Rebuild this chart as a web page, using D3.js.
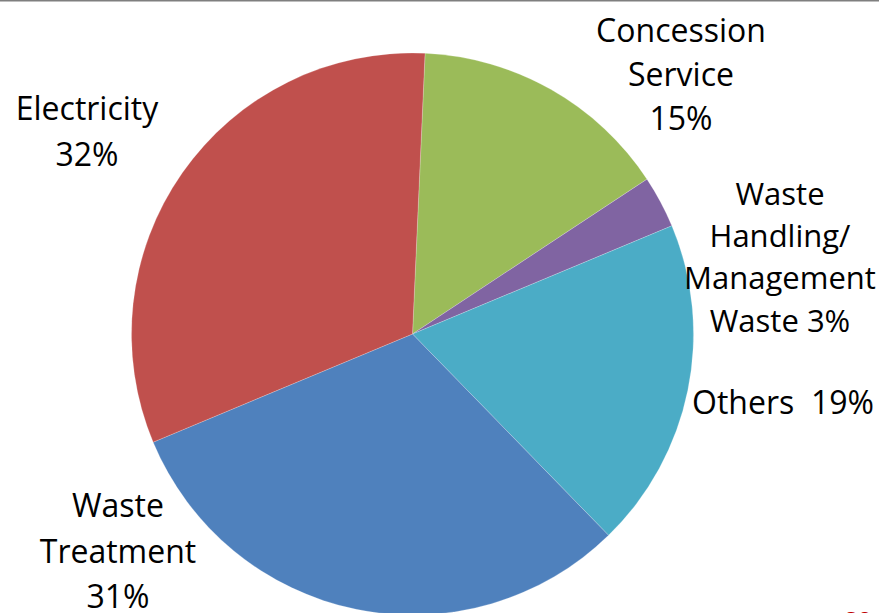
<!DOCTYPE html>
<html>
<head>
<meta charset="utf-8">
<script src="https://cdn.jsdelivr.net/npm/d3@7"></script>
<style>
  html, body { margin: 0; padding: 0; background: #fff; }
  svg { display: block; }
  text { font-family: "Open Sans", Lato, sans-serif; fill: #000; }
</style>
</head>
<body>
<div id="chart"></div>
<script>
// slices, clockwise from the top (Concession first)
const categories = ["Concession Service", "Waste Handling/ Management Waste", "Others", "Waste Treatment", "Electricity"];
const shares = [15, 3, 19, 31, 32];
const colors = ["#9BBB59", "#8064A2", "#4BACC6", "#4F81BD", "#C0504D"];

// label text, one entry per line
const labelLines = [
    ["Concession", "Service", "15%"],
    ["Waste", "Handling/", "Management", "Waste 3%"],
    ["Others\u00a0\u00a019%"],
    ["Waste", "Treatment", "31%"],
    ["Electricity", "32%"]
];

function main() {
    const width = 879;
    const height = 613;

    // pie geometry
    const cx = 412.5;
    const cy = 334;
    const radius = 281;
    const startOffset = 2.56 * Math.PI / 180; // first slice edge sits a bit right of 12 o'clock

    // where each label block is centred (x) and where its first baseline is (y)
    const labelLayout = [
        { x: 681, y: 41.5, lh: 44.3, fs: 32 },
        { x: 780, y: 205, lh: 42.2, fs: 31 },
        { x: 783, y: 414, lh: 44, fs: 32 },
        { x: 118, y: 517, lh: 45.5, fs: 32 },
        { x: 87, y: 119.5, lh: 46.7, fs: 32 }
    ];

    const svg = d3.select("#chart")
        .append("svg")
            .attr("width", width)
            .attr("height", height);

    // thin grey rule along the top of the slide
    svg.append("line")
        .attr("x1", 0).attr("x2", width)
        .attr("y1", 0.75).attr("y2", 0.75)
        .attr("stroke", "#7f7f7f")
        .attr("stroke-width", 1.5);

    const pie = d3.pie()
        .sort(null)
        .value(d => d)
        .startAngle(startOffset)
        .endAngle(startOffset + 2 * Math.PI);

    const arc = d3.arc()
        .innerRadius(0)
        .outerRadius(radius);

    const g = svg.append("g")
        .attr("transform", `translate(${cx}, ${cy})`);

    g.selectAll("path")
        .data(pie(shares))
        .enter()
        .append("path")
            .attr("d", arc)
            .attr("fill", (d, i) => colors[i])
            .attr("stroke", "#ffffff")
            .attr("stroke-opacity", 0.35)
            .attr("stroke-width", 0.6);

    // labels
    const labels = svg.selectAll("text.label")
        .data(labelLines)
        .enter()
        .append("text")
            .attr("class", "label")
            .attr("text-anchor", "middle")
            .attr("font-size", (d, i) => labelLayout[i].fs);

    labels.each(function (lines, i) {
        const pos = labelLayout[i];
        d3.select(this).selectAll("tspan")
            .data(lines)
            .enter()
            .append("tspan")
                .attr("x", pos.x)
                .attr("y", (l, j) => pos.y + j * pos.lh)
                .text(l => l);
    });

    // slide number, cut off by the bottom edge
    svg.append("text")
        .attr("x", 858)
        .attr("y", 629)
        .attr("text-anchor", "middle")
        .attr("font-size", 24)
        .attr("font-weight", "bold")
        .style("fill", "#C00000")
        .text("20");
}

main();
</script>
</body>
</html>
